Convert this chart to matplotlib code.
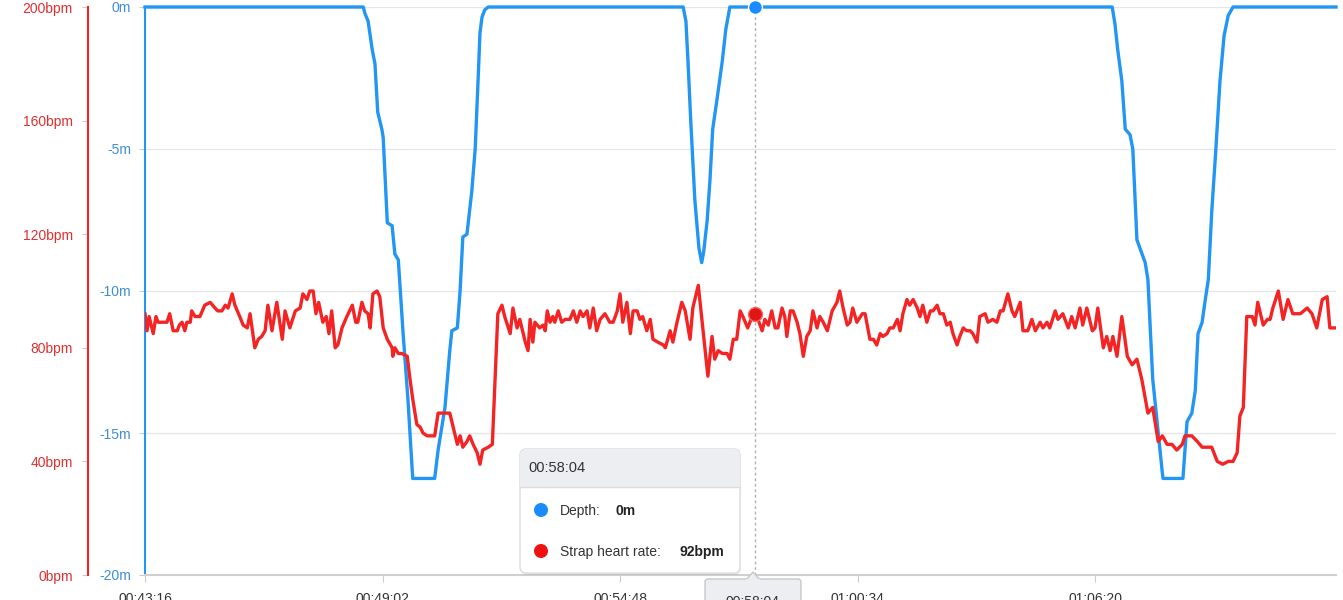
#dive log chart: depth and strap heart rate over time
import matplotlib.pyplot as plt
import matplotlib.patches as mpatches

plt.rcParams['font.family'] = ['Liberation Sans', 'DejaVu Sans']

start = 2596  #00:43:16 in seconds, left edge of the chart
end = 4331

#strap heart rate, seconds after 00:43:16 and bpm
hr_t = [0, 3, 6, 12, 16, 19, 26, 32, 36, 41, 47, 50, 54, 58, 61, 66, 68, 73, 80, 87,
        95, 102, 106, 112, 117, 121, 127, 131, 138, 143, 149, 153, 160, 165, 170, 175, 179, 185, 192, 200,
        204, 211, 219, 226, 230, 236, 240, 245, 249, 253, 259, 264, 268, 272, 277, 281, 287, 294, 302, 307,
        310, 316, 320, 325, 328, 332, 338, 342, 347, 353, 360, 361, 364, 369, 374, 382, 386, 390, 396, 401,
        405, 411, 422, 427, 444, 449, 455, 459, 463, 469, 473, 478, 484, 488, 492, 500, 506, 510, 514, 520,
        524, 532, 536, 542, 546, 554, 558, 561, 565, 568, 575, 580, 583, 586, 590, 594, 597, 602, 607, 612,
        619, 624, 629, 634, 638, 644, 648, 653, 658, 663, 670, 677, 682, 688, 692, 696, 702, 707, 711, 717,
        721, 725, 731, 736, 740, 747, 755, 758, 765, 769, 775, 782, 787, 794, 798, 806, 813, 820, 826, 830,
        835, 841, 848, 852, 857, 862, 867, 871, 878, 886, 893, 899, 903, 908, 913, 918, 922, 928, 932, 935,
        940, 944, 950, 954, 959, 964, 969, 973, 979, 983, 988, 994, 1001, 1008, 1012, 1017, 1023, 1027, 1031, 1037,
        1045, 1049, 1056, 1061, 1066, 1071, 1075, 1081, 1085, 1090, 1096, 1100, 1104, 1110, 1114, 1119, 1125, 1129, 1133, 1139,
        1144, 1148, 1154, 1158, 1163, 1168, 1173, 1177, 1183, 1187, 1192, 1197, 1202, 1206, 1212, 1216, 1224, 1228, 1235, 1241,
        1246, 1250, 1257, 1263, 1267, 1275, 1279, 1286, 1292, 1297, 1304, 1308, 1314, 1318, 1326, 1330, 1337, 1345, 1350, 1355,
        1362, 1366, 1372, 1380, 1384, 1388, 1396, 1401, 1406, 1410, 1416, 1423, 1431, 1438, 1445, 1452, 1461, 1468, 1476, 1482,
        1489, 1496, 1503, 1511, 1515, 1525, 1533, 1540, 1547, 1554, 1562, 1570, 1578, 1585, 1591, 1595, 1600, 1605, 1613, 1617,
        1621, 1629, 1635, 1639, 1643, 1651, 1658, 1665, 1672, 1683, 1693, 1700, 1707, 1715, 1722, 1726, 1736]
hr_bpm = [92, 86, 91, 85, 91, 89, 89, 89, 92, 86, 86, 88, 89, 86, 89, 89, 93, 91, 91, 95,
          96, 94, 93, 93, 95, 94, 99, 95, 91, 88, 87, 92, 80, 83, 84, 86, 95, 86, 96, 83,
          93, 87, 93, 94, 99, 97, 100, 100, 92, 96, 89, 91, 85, 93, 80, 81, 87, 91, 95, 89,
          89, 96, 93, 92, 87, 99, 100, 98, 87, 83, 80, 77, 80, 78, 78, 77, 69, 62, 53, 52,
          50, 49, 49, 57, 57, 52, 46, 49, 45, 47, 49, 46, 43, 39, 44, 45, 46, 69, 92, 95,
          91, 85, 94, 87, 90, 82, 79, 90, 82, 89, 87, 88, 86, 93, 89, 91, 89, 93, 89, 90,
          90, 93, 89, 93, 91, 93, 87, 94, 86, 90, 92, 89, 89, 93, 99, 89, 96, 85, 93, 93,
          90, 91, 86, 90, 83, 82, 81, 80, 86, 82, 89, 96, 93, 83, 94, 102, 86, 70, 84, 76,
          79, 78, 78, 76, 83, 83, 93, 91, 87, 92, 90, 86, 90, 88, 93, 87, 87, 94, 91, 84,
          93, 93, 89, 85, 77, 84, 86, 93, 87, 91, 89, 86, 93, 96, 100, 94, 88, 89, 94, 89,
          92, 92, 83, 83, 81, 85, 84, 85, 87, 87, 90, 86, 92, 97, 95, 97, 94, 91, 95, 89,
          93, 93, 95, 92, 92, 88, 89, 85, 81, 84, 87, 86, 86, 85, 82, 91, 92, 89, 90, 89,
          93, 93, 99, 93, 91, 96, 86, 86, 90, 86, 89, 87, 89, 87, 93, 90, 92, 87, 91, 87,
          94, 88, 94, 86, 87, 94, 80, 84, 79, 84, 77, 91, 77, 74, 76, 69, 57, 59, 47, 49,
          46, 46, 44, 46, 49, 49, 47, 45, 45, 45, 40, 39, 40, 40, 43, 56, 59, 91, 91, 88,
          96, 88, 90, 90, 94, 100, 90, 97, 92, 92, 94, 92, 87, 97, 98, 87, 87]

#depth, seconds after 00:43:16 and metres
depth_t = [0, 318, 320, 325, 331, 335, 339, 345, 347, 353, 360, 364, 369, 376, 383, 390, 422, 427, 437, 444,
           447, 455, 459, 463, 469, 476, 481, 485, 488, 491, 495, 500,
           784, 788, 791, 795, 801, 807, 811, 814, 819, 823, 827, 833, 841, 846, 852,
           1409, 1413, 1417, 1423, 1428, 1435, 1439, 1445, 1457, 1461, 1468, 1482, 1483, 1512, 1518, 1525, 1530, 1534, 1540,
           1544, 1549, 1554, 1560, 1566, 1572, 1578, 1585, 1735]
depth_m = [0, 0, -0.2, -0.5, -1.5, -2.0, -3.7, -4.3, -4.6, -7.6, -7.7, -8.7, -8.9, -11.5, -13.8, -16.6, -16.6, -15.6, -14.1, -12.1,
           -11.4, -11.3, -10.0, -8.1, -8.0, -6.5, -5.0, -2.7, -0.9, -0.35, -0.1, 0,
           0, -0.5, -1.9, -4.0, -6.8, -8.5, -9.0, -8.6, -7.5, -6.1, -4.3, -3.3, -1.9, -0.8, 0,
           0, -0.6, -1.5, -2.6, -4.3, -4.5, -5.0, -8.2, -9.0, -9.6, -13.1, -16.4, -16.6, -16.6, -14.6, -14.3, -13.5, -11.5, -11.1,
           -10.4, -9.6, -7.2, -5.0, -2.6, -1.0, -0.3, 0, 0]

tick_labels = ["00:43:16", "00:49:02", "00:54:48", "01:00:34", "01:06:20"]
depth_ticks = [0, -5, -10, -15, -20]
hr_ticks = [0, 40, 80, 120, 160, 200]

tip_time = "00:58:04"
tip_depth = 0
tip_hr = 92

blue = "#2196F3"
red = "#F42424"


def secs(s):
    h, m, sec = s.split(":")
    return int(h) * 3600 + int(m) * 60 + int(sec)


W, H = 1343, 600
fig = plt.figure(figsize=(W / 100, H / 100), dpi=100)
ax = fig.add_axes([145 / W, 25 / H, 1191 / W, 568 / H])

#depth on the main axis
ax.plot([start + t for t in depth_t], depth_m, color=blue, lw=2.4, solid_joinstyle="round", zorder=3, clip_on=False)
ax.set_ylim(-20, 0)
ax.set_xlim(start, end)
ax.set_yticks(depth_ticks)
ax.set_yticklabels([f"{v}m" for v in depth_ticks])
ax.yaxis.grid(True, color="#e6e6e6", lw=1)
ax.set_axisbelow(True)
ax.set_xticks([secs(s) for s in tick_labels])
ax.set_xticklabels(tick_labels)
ax.tick_params(axis="y", color="#cccccc", labelcolor="#3d8fd9", length=4, pad=6, labelsize=10)
ax.tick_params(axis="x", color="#cccccc", labelcolor="#333333", length=5, pad=7, labelsize=10)
for s in ["top", "right"]:
    ax.spines[s].set_visible(False)
ax.spines["left"].set_color(blue)
ax.spines["left"].set_linewidth(1.5)
ax.spines["bottom"].set_color("#d0d0d0")
ax.spines["bottom"].set_linewidth(1.5)

#heart rate on a second axis, spine pushed to the left
ax2 = ax.twinx()
ax2.plot([start + t for t in hr_t], hr_bpm, color=red, lw=2.4, solid_joinstyle="round", zorder=3)
ax2.set_ylim(0, 200)
ax2.set_yticks(hr_ticks)
ax2.set_yticklabels([f"{v}bpm" for v in hr_ticks])
ax2.yaxis.tick_left()
for s in ["top", "right", "bottom"]:
    ax2.spines[s].set_visible(False)
ax2.spines["left"].set_visible(True)
ax2.spines["left"].set_position(("outward", 41))
ax2.spines["left"].set_color(red)
ax2.spines["left"].set_linewidth(1.5)
ax2.tick_params(axis="y", color="#cccccc", labelcolor="#e03030", length=4, pad=7, labelsize=10)

#hover line and markers
tt = secs(tip_time)
ax.axvline(tt, color="#b0b0b0", lw=1, ls=(0, (2, 2)), zorder=1)
ax.plot(tt, tip_depth, "o", color="#1a8cff", ms=10, mec="white", mew=1, zorder=5, clip_on=False)
ax2.plot(tt, tip_hr, "o", color="#e01515", ms=10, mec="#ff6060", mew=1, zorder=5)

#tooltip overlay in pixel units
ov = fig.add_axes([0, 0, 1, 1], zorder=10)
ov.set_xlim(0, W)
ov.set_ylim(H, 0)
ov.axis("off")

shadow = mpatches.FancyBboxPatch((521, 451), 220, 124, boxstyle="round,pad=0,rounding_size=6",
                                 fc="#000000", ec="none", alpha=0.06)
ov.add_patch(shadow)
box = mpatches.FancyBboxPatch((520, 449), 220, 124, boxstyle="round,pad=0,rounding_size=6",
                              fc="white", ec="#dddddd", lw=1)
ov.add_patch(box)
head = mpatches.Rectangle((520, 449), 220, 38, fc="#eceef1", ec="none")
ov.add_patch(head)
head.set_clip_path(box)
ov.plot([520, 740], [487, 487], color="#dddddd", lw=1)
ov.text(528, 468, tip_time, fontsize=10.5, color="#333333", va="center")

ov.add_patch(mpatches.Circle((541, 510), 7, fc="#1a8cff", ec="none"))
ov.text(560, 511, "Depth:", fontsize=10, color="#333333", va="center")
ov.text(615, 511, f"{tip_depth}m", fontsize=10, color="#222222", va="center", fontweight="bold")
ov.add_patch(mpatches.Circle((541, 551), 7, fc="#f01010", ec="none"))
ov.text(560, 552, "Strap heart rate:", fontsize=10, color="#333333", va="center")
ov.text(679, 552, f"{tip_hr}bpm", fontsize=10, color="#222222", va="center", fontweight="bold")

#x label box under the hover line
xb = mpatches.FancyBboxPatch((705, 579), 96, 35, boxstyle="round,pad=0,rounding_size=3",
                             fc="#eceef1", ec="#c8c8c8", lw=1)
ov.add_patch(xb)
ov.add_patch(mpatches.Polygon([(746, 580), (753, 572), (760, 580)], fc="#eceef1", ec="#c8c8c8", lw=1))
ov.plot([747, 759], [580, 580], color="#eceef1", lw=1.5)
ov.text(753, 602, tip_time, fontsize=10, color="#333333", ha="center", va="center")

fig.savefig("out.png", dpi=100)
plt.close()
